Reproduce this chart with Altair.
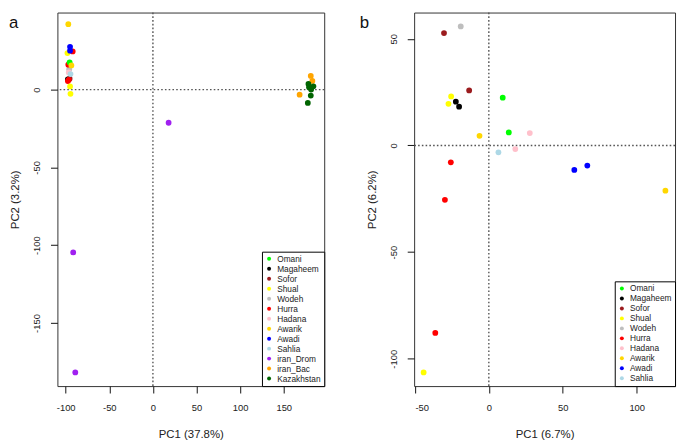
import altair as alt
import pandas as pd

FONT = "Liberation Sans"

# ---------------- Panel a data ----------------
a_order = ["Omani", "Magaheem", "Sofor", "Shual", "Wodeh", "Hurra", "Hadana",
           "Awarik", "Awadi", "Sahlia", "iran_Drom", "iran_Bac", "Kazakhstan"]
a_colors = ["#00FF00", "#000000", "#9B1B1E", "#FFFF00", "#BEBEBE", "#FF0000", "#FFC0CB",
            "#FFD700", "#0000FF", "#ADD8E6", "#A020F0", "#FFA500", "#006400"]

a_group = ["Wodeh", "Magaheem", "Sofor", "Hurra", "Hurra", "Shual", "Shual", "Shual",
           "Omani", "Hurra", "Hadana", "Sahlia", "Awarik", "Awarik", "Awadi", "Awadi",
           "Hurra", "iran_Drom", "iran_Drom", "iran_Drom",
           "iran_Bac", "iran_Bac", "iran_Bac",
           "Kazakhstan", "Kazakhstan", "Kazakhstan", "Kazakhstan", "Kazakhstan", "Kazakhstan"]
a_pc1 = [-96.0, -97.5, -95.5, -97.5, -97.0, -98.0, -95.0, -94.5,
         -95.5, -92.0, -96.5, -94.5, -97.0, -93.5, -95.0, -95.0,
         -96.5, 18.0, -91.4, -89.0,
         181.0, 182.8, 168.2,
         178.3, 184.0, 181.4, 179.0, 181.0, 177.6]
a_pc2 = [13.0, 6.5, 7.0, 5.5, 16.0, 23.5, 2.0, -2.7,
         17.5, 24.5, 11.0, 10.0, 42.0, 15.5, 27.5, 25.0,
         6.3, -21.3, -104.6, -181.7,
         8.8, 5.6, -3.3,
         3.6, 2.1, 0.0, 1.5, -3.8, -8.6]

# ---------------- Panel b data ----------------
b_order = ["Omani", "Magaheem", "Sofor", "Shual", "Wodeh", "Hurra", "Hadana",
           "Awarik", "Awadi", "Sahlia"]
b_colors = ["#00FF00", "#000000", "#9B1B1E", "#FFFF00", "#BEBEBE", "#FF0000", "#FFC0CB",
            "#FFD700", "#0000FF", "#ADD8E6"]

b_group = ["Sofor", "Wodeh", "Sofor", "Shual", "Shual", "Magaheem", "Magaheem",
           "Omani", "Omani", "Hadana", "Awarik", "Sahlia", "Hadana", "Awadi", "Awadi",
           "Awarik", "Hurra", "Hurra", "Hurra", "Shual"]
b_pc1 = [-30.3, -19.0, -13.3, -25.5, -27.3, -22.3, -20.1,
         9.4, 13.5, 27.7, -6.3, 6.5, 17.9, 57.8, 66.6,
         119.4, -25.7, -29.7, -36.2, -44.1]
b_pc2 = [52.7, 55.8, 25.8, 23.0, 19.5, 20.5, 18.2,
         22.4, 6.1, 5.8, 4.5, -3.2, -1.7, -11.5, -9.4,
         -21.2, -7.9, -25.5, -87.9, -106.4]


def panel(groups, pc1, pc2, order, colors, xdom, ydom, xticks, yticks,
          xtitle, ytitle, w, h, letter, letter_x):
    df = pd.DataFrame({"group": groups, "pc1": pc1, "pc2": pc2,
                       "idx": list(range(len(groups)))})
    ref = pd.DataFrame({"z": [0]})
    vline = alt.Chart(ref).mark_rule(color="#555555", strokeDash=[1.6, 2.2], strokeWidth=1.4).encode(
        x=alt.datum(0))
    hline = alt.Chart(ref).mark_rule(color="#555555", strokeDash=[1.6, 2.2], strokeWidth=1.4).encode(
        y=alt.datum(0))
    pts = alt.Chart(df).mark_circle(size=34, opacity=1).encode(
        x=alt.X("pc1:Q", scale=alt.Scale(domain=xdom, nice=False, zero=False),
                axis=alt.Axis(values=xticks, title=xtitle, labelPadding=10, titlePadding=17,
                              labelExpr="'' + datum.value")),
        y=alt.Y("pc2:Q", scale=alt.Scale(domain=ydom, nice=False, zero=False),
                axis=alt.Axis(values=yticks, title=ytitle, labelAngle=270,
                              labelAlign="center", labelBaseline="bottom",
                              labelPadding=9, titlePadding=11,
                              labelExpr="'' + datum.value")),
        color=alt.Color("group:N", scale=alt.Scale(domain=order, range=colors),
                        legend=alt.Legend(title=None, orient="bottom-right", offset=0,
                                          padding=3, strokeColor="black", fillColor="white",
                                          symbolType="circle", symbolSize=16,
                                          symbolStrokeWidth=0, labelFontSize=8.4,
                                          labelFont=FONT, labelColor="#222222",
                                          rowPadding=1.1, labelOffset=4)),
        order=alt.Order("idx:Q"),
    )
    lab = alt.Chart(pd.DataFrame({"t": [letter]})).mark_text(
        align="left", baseline="top", fontSize=17, font=FONT, color="#111111").encode(
        x=alt.value(letter_x), y=alt.value(3), text="t:N")
    return alt.layer(vline, hline, pts, lab).properties(width=w, height=h)


pa = panel(a_group, a_pc1, a_pc2, a_order, a_colors,
           [-109.5, 196.4], [-190.5, 49.5], [-100, -50, 0, 50, 100, 150], [-150, -100, -50, 0],
           "PC1 (37.8%)", "PC2 (3.2%)", 270, 378, "a", -49)
pb = panel(b_group, b_pc1, b_pc2, b_order, b_colors,
           [-50.5, 125.9], [-112.8, 62.3], [-50, 0, 50, 100], [-100, -50, 0, 50],
           "PC1 (6.7%)", "PC2 (6.2%)", 264, 378, "b", -55)

chart = alt.hconcat(pa, pb, spacing=33).resolve_scale(
    color="independent").resolve_legend(color="independent").properties(
    padding=0
).configure_view(stroke="#333333", strokeWidth=1).configure_axis(
    grid=False, domain=False, tickColor="#111111", tickSize=7, tickWidth=1,
    labelFont=FONT, labelFontSize=9.5, labelColor="#222222",
    titleFont=FONT, titleFontSize=11.5, titleFontWeight="normal", titleColor="#222222"
)

chart.save("out.html", embed_options={"renderer": "svg", "actions": False})
